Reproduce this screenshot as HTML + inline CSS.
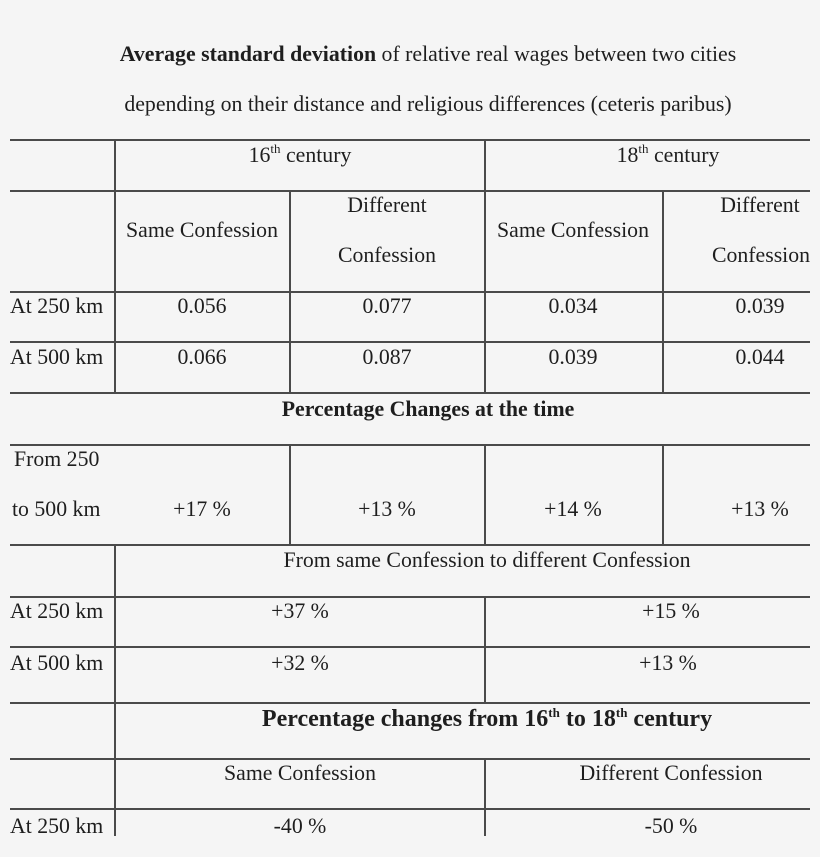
<!DOCTYPE html>
<html><head><meta charset="utf-8"><style>
html,body{margin:0;padding:0;}
body{width:820px;height:857px;background:#f5f5f5;position:relative;overflow:hidden;font-family:"Liberation Serif",serif;color:#1e1e1e;font-size:21.8px;}
.h{position:absolute;height:2px;background:#4a4a4a;left:10px;width:800px;}
.v{position:absolute;width:2px;background:#4a4a4a;}
.t{position:absolute;height:26px;line-height:26px;white-space:nowrap;transform:translateX(-50%);margin-top:1px;}
.l{position:absolute;height:26px;line-height:26px;white-space:nowrap;left:10px;margin-top:1px;}
sup{font-size:13px;vertical-align:top;line-height:14px;}
b{font-weight:bold;}
</style></head><body>
<div class="t" style="left:428px;top:40px">
<b>Average standard deviation</b> of relative real wages between two cities</div>
<div class="t" style="left:428px;top:90px">depending on their distance and religious differences (ceteris paribus)</div>

<div class="h" style="top:139px"></div>
<div class="h" style="top:190px"></div>
<div class="h" style="top:291px"></div>
<div class="h" style="top:341px"></div>
<div class="h" style="top:392px"></div>
<div class="h" style="top:444px"></div>
<div class="h" style="top:544px"></div>
<div class="h" style="top:596px"></div>
<div class="h" style="top:646px"></div>
<div class="h" style="top:702px"></div>
<div class="h" style="top:758px"></div>
<div class="h" style="top:808px"></div>

<div class="v" style="left:114px;top:139px;height:254px"></div>
<div class="v" style="left:114px;top:544px;height:292px"></div>
<div class="v" style="left:289px;top:190px;height:203px"></div>
<div class="v" style="left:289px;top:444px;height:101px"></div>
<div class="v" style="left:484px;top:139px;height:254px"></div>
<div class="v" style="left:484px;top:444px;height:101px"></div>
<div class="v" style="left:484px;top:596px;height:107px"></div>
<div class="v" style="left:484px;top:758px;height:78px"></div>
<div class="v" style="left:662px;top:190px;height:203px"></div>
<div class="v" style="left:662px;top:444px;height:101px"></div>

<div class="t" style="left:300px;top:141px">16<sup>th</sup> century</div>
<div class="t" style="left:668px;top:141px">18<sup>th</sup> century</div>

<div class="t" style="left:202px;top:216px">Same Confession</div>
<div class="t" style="left:387px;top:191px">Different</div>
<div class="t" style="left:387px;top:241px">Confession</div>
<div class="t" style="left:573px;top:216px">Same Confession</div>
<div class="t" style="left:760px;top:191px">Different</div>
<div class="t" style="left:761px;top:241px">Confession</div>

<div class="l" style="top:292px">At 250 km</div>
<div class="t" style="left:202px;top:292px">0.056</div>
<div class="t" style="left:387px;top:292px">0.077</div>
<div class="t" style="left:573px;top:292px">0.034</div>
<div class="t" style="left:760px;top:292px">0.039</div>

<div class="l" style="top:343px">At 500 km</div>
<div class="t" style="left:202px;top:343px">0.066</div>
<div class="t" style="left:387px;top:343px">0.087</div>
<div class="t" style="left:573px;top:343px">0.039</div>
<div class="t" style="left:760px;top:343px">0.044</div>

<div class="t" style="left:428px;top:395px"><b>Percentage Changes at the time</b></div>

<div class="l" style="top:445px;left:14px">From 250</div>
<div class="l" style="top:495px;left:12px">to 500 km</div>
<div class="t" style="left:202px;top:495px">+17 %</div>
<div class="t" style="left:387px;top:495px">+13 %</div>
<div class="t" style="left:573px;top:495px">+14 %</div>
<div class="t" style="left:760px;top:495px">+13 %</div>

<div class="t" style="left:487px;top:546px">From same Confession to different Confession</div>

<div class="l" style="top:597px">At 250 km</div>
<div class="t" style="left:300px;top:597px">+37 %</div>
<div class="t" style="left:671px;top:597px">+15 %</div>

<div class="l" style="top:649px">At 500 km</div>
<div class="t" style="left:300px;top:649px">+32 %</div>
<div class="t" style="left:668px;top:649px">+13 %</div>

<div class="t" style="left:487px;top:705px;font-size:24px"><b>Percentage changes from 16<sup>th</sup> to 18<sup>th</sup> century</b></div>

<div class="t" style="left:300px;top:759px">Same Confession</div>
<div class="t" style="left:671px;top:759px">Different Confession</div>

<div class="l" style="top:812px">At 250 km</div>
<div class="t" style="left:300px;top:812px">-40 %</div>
<div class="t" style="left:671px;top:812px">-50 %</div>
</body></html>
